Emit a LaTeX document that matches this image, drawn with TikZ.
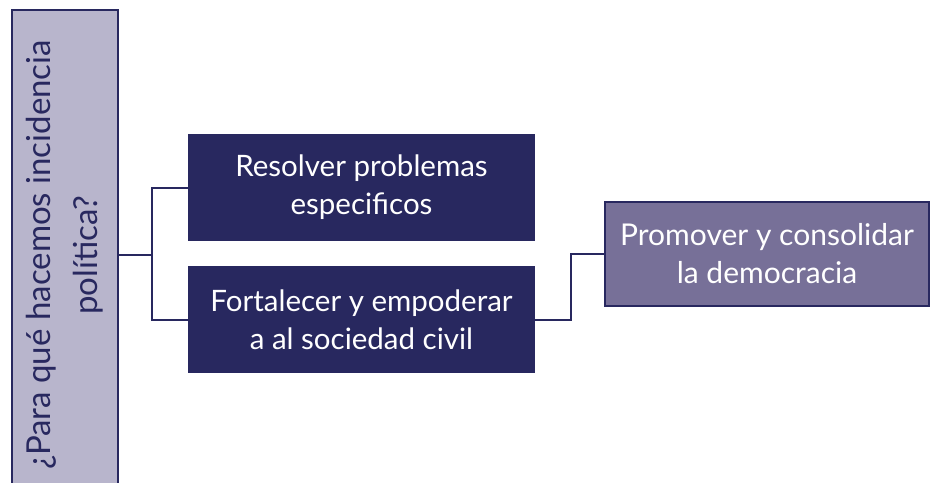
\documentclass[tikz,border=0pt]{standalone}
\usepackage{fontspec}
\setmainfont{Lato}
\usetikzlibrary{positioning, calc}
\definecolor{navy}{HTML}{28285F}
\definecolor{lavender}{HTML}{B8B5CC}
\definecolor{mauve}{HTML}{777098}

\begin{document}
\begin{tikzpicture}[x=1pt, y=-1pt,
    goalbox/.style={draw=navy, line width=1.5pt, fill=navy, text=white, align=center,
        minimum width=345pt, minimum height=105pt, inner sep=0pt,
        font=\fontsize{29.5}{38}\selectfont},
    link/.style={draw=navy, line width=2pt}]

    \useasboundingbox (0,0) rectangle (937,482);

    % Question box (runs off the bottom)
    \node[draw=navy, line width=2pt, fill=lavender, text=navy, rotate=90, align=center,
        minimum width=490pt, minimum height=106pt, inner sep=0pt,
        font=\fontsize{33}{47}\selectfont] (question) at (65,255)
        {¿Para qué hacemos incidencia\\política?};

    % Goal boxes
    \node[goalbox] (solve) at (361.5,187.5) {Resolver problemas\\especificos};
    \node[goalbox] (empower) at (361.5,319.5) {Fortalecer y empoderar\\a al sociedad civil};
    \node[goalbox, fill=mauve, minimum width=324pt, minimum height=104pt,
        font=\fontsize{30}{38}\selectfont] (democracy)
        at (767,254) {Promover y consolidar\\la democracia};

    % Connectors
    \coordinate (split) at (152,255);
    \coordinate (join) at (571,287);
    \draw[link] (question.south) -- (split);
    \draw[link] (solve.west) -| (split) |- (empower.west);
    \draw[link] (empower.east) -| (join) |- (democracy.west);

\end{tikzpicture}
\end{document}
